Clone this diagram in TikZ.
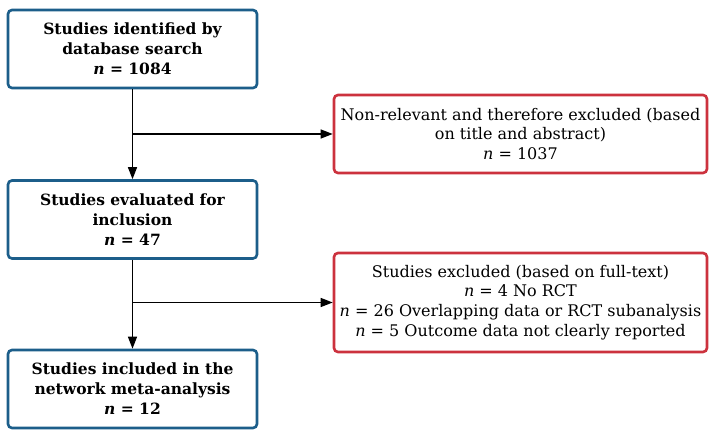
\documentclass[tikz,border=0pt]{standalone}
\usepackage{fontspec}
\setmainfont{DejaVu Serif}
\usetikzlibrary{arrows.meta}
\definecolor{boxblue}{RGB}{28,94,138}
\definecolor{boxred}{RGB}{204,50,62}
\tikzset{
  stagebox/.style={draw=boxblue,line width=2.6pt,rounded corners=4pt,fill=white,
    align=center,inner sep=0pt,minimum width=249pt,minimum height=78pt,
    font=\fontsize{15.5}{20}\selectfont\bfseries},
  exclbox/.style={draw=boxred,line width=2.6pt,rounded corners=4pt,fill=white,
    align=center,inner sep=0pt,minimum width=373pt,
    font=\fontsize{16}{19.7}\selectfont},
  flow/.style={line width=1.3pt,-{Triangle[length=12pt,width=9pt]}}
}
\begin{document}
\begin{tikzpicture}[x=1pt,y=1pt]
  \useasboundingbox (0,0) rectangle (721,438);
  \node[stagebox] (ident) at (132.5,389) {Studies identified by\\database search\\\textit{n} = 1084};
  \node[stagebox] (eval) at (132.5,218.5) {Studies evaluated for\\inclusion\\\textit{n} = 47};
  \node[stagebox] (incl) at (132.5,49) {Studies included in the\\network meta-analysis\\\textit{n} = 12};
  \node[exclbox,minimum height=78pt] (nonrel) at (520.5,304) {Non-relevant and therefore excluded (based\\on title and abstract)\\\textit{n} = 1037};
  \node[exclbox,minimum height=99pt] (fulltext) at (520.5,135.5) {Studies excluded (based on full-text)\\\textit{n} = 4 No RCT\\\textit{n} = 26 Overlapping data or RCT subanalysis\\\textit{n} = 5 Outcome data not clearly reported};
  \draw[flow] (ident.south) -- (eval.north);
  \draw[flow] (ident.south |- nonrel.west) -- (nonrel.west);
  \draw[flow] (eval.south) -- (incl.north);
  \draw[flow] (eval.south |- fulltext.west) -- (fulltext.west);
\end{tikzpicture}
\end{document}
